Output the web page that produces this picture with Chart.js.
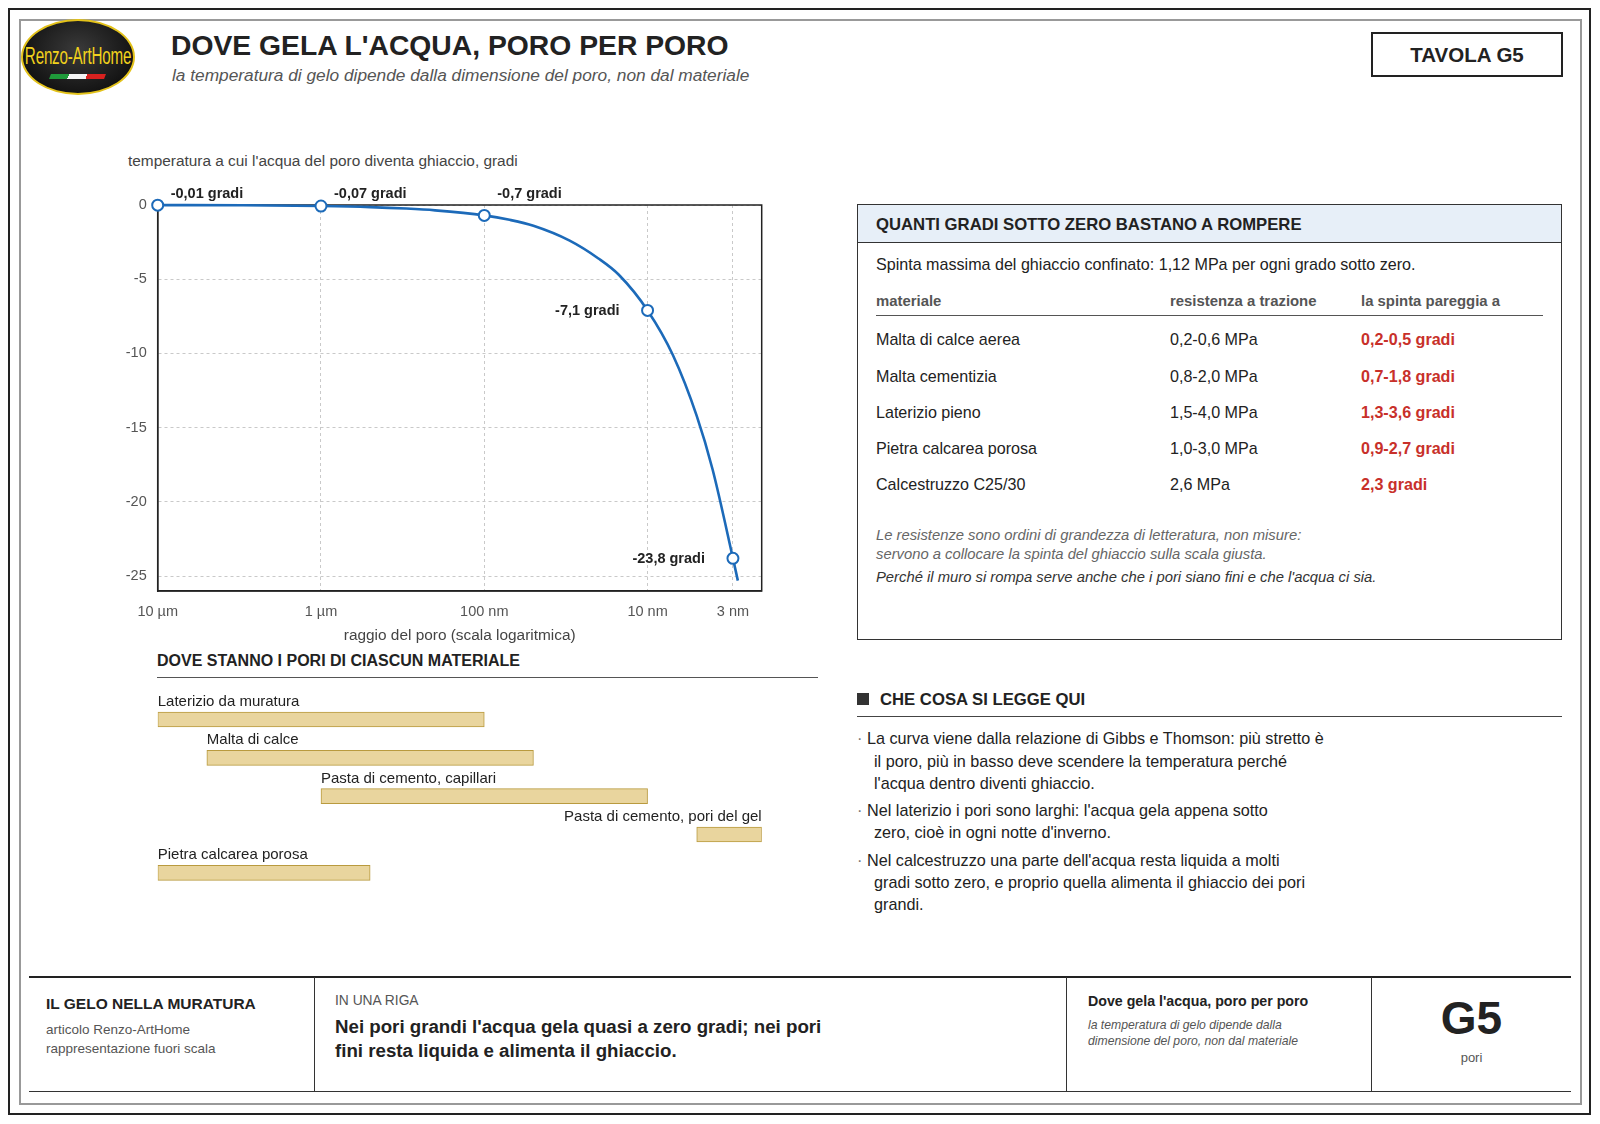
<!DOCTYPE html>
<html><head><meta charset="utf-8">
<script src="https://cdn.jsdelivr.net/npm/chart.js@4.4.0/dist/chart.umd.min.js"></script>
<style>
html,body{margin:0;padding:0;background:#fff;}
body{width:1600px;height:1124px;position:relative;overflow:hidden;font-family:"Liberation Sans",Arial,Helvetica,sans-serif;color:#222;}
.t{position:absolute;white-space:nowrap;line-height:1;transform:translateY(-50%);}
.box{position:absolute;box-sizing:border-box;}
.hl{position:absolute;height:0;}
.vl{position:absolute;width:0;}
canvas{position:absolute;}
</style></head><body>
<!-- frame -->
<div class="box" style="left:8px;top:8px;width:1583px;height:1107px;border:2.5px solid #222"></div>
<div class="box" style="left:19px;top:19px;width:1563px;height:1086px;border:2px solid #999"></div>

<!-- logo -->
<div class="box" style="left:21px;top:19px;width:114px;height:76px;border-radius:50%;border:2px solid #e3c21a;background:radial-gradient(ellipse at 50% 40%,#3a3a3a 0%,#1a1a1a 60%,#050505 100%);overflow:hidden">
  <div style="position:absolute;left:55px;top:24px;color:#f2d21c;font-size:23px;line-height:1;transform:translateX(-50%) scaleX(0.66);white-space:nowrap;letter-spacing:-0.3px">Renzo-ArtHome</div>
  <div style="position:absolute;left:27px;top:53px;width:55px;height:5px;background:linear-gradient(90deg,#1f9a3a 0%,#1f9a3a 33%,#f4f4f4 33%,#f4f4f4 66%,#d8211f 66%,#d8211f 100%);transform:skewX(-20deg)"></div>
</div>

<!-- title -->
<div class="t" style="left:171px;top:45px;font-size:28.3px;font-weight:bold;color:#222">DOVE GELA L'ACQUA, PORO PER PORO</div>
<div class="t" style="left:172px;top:76px;font-size:17.3px;font-style:italic;color:#555">la temperatura di gelo dipende dalla dimensione del poro, non dal materiale</div>
<div class="box" style="left:1371px;top:32px;width:192px;height:45px;border:2px solid #222"></div>
<div class="t" style="left:1371px;width:192px;text-align:center;top:54.5px;font-size:20.5px;font-weight:bold;color:#222">TAVOLA G5</div>

<!-- chart titles -->
<div class="t" style="left:128px;top:161px;font-size:15.4px;color:#444">temperatura a cui l'acqua del poro diventa ghiaccio, gradi</div>
<canvas id="c1" width="680" height="471" style="left:100px;top:180px"></canvas>

<div class="t" style="left:157px;top:661px;font-size:16px;font-weight:bold;color:#222">DOVE STANNO I PORI DI CIASCUN MATERIALE</div>
<div class="hl" style="left:157px;top:677px;width:661px;border-top:1.5px solid #555"></div>
<canvas id="c2" width="680" height="212" style="left:100px;top:680px"></canvas>

<!-- right panel -->
<div class="box" style="left:857px;top:204px;width:705px;height:436px;border:1.5px solid #333"></div>
<div class="box" style="left:858px;top:205px;width:703px;height:38px;background:#e7eff8;border-bottom:1.5px solid #333"></div>
<div class="t" style="left:876px;top:225px;font-size:16.7px;font-weight:bold;color:#222">QUANTI GRADI SOTTO ZERO BASTANO A ROMPERE</div>
<div class="t" style="left:876px;top:264px;font-size:16.1px;color:#222">Spinta massima del ghiaccio confinato: 1,12 MPa per ogni grado sotto zero.</div>
<div class="t" style="left:876px;top:300.5px;font-size:14.9px;font-weight:bold;color:#555">materiale</div>
<div class="t" style="left:1170px;top:300.5px;font-size:14.9px;font-weight:bold;color:#555">resistenza a trazione</div>
<div class="t" style="left:1361px;top:300.5px;font-size:14.9px;font-weight:bold;color:#555">la spinta pareggia a</div>
<div class="hl" style="left:876px;top:315px;width:667px;border-top:1.2px solid #555"></div>
<div id="tbl"></div>
<div class="t" style="left:876px;top:535px;font-size:14.8px;font-style:italic;color:#666">Le resistenze sono ordini di grandezza di letteratura, non misure:</div>
<div class="t" style="left:876px;top:554px;font-size:14.8px;font-style:italic;color:#666">servono a collocare la spinta del ghiaccio sulla scala giusta.</div>
<div class="t" style="left:876px;top:577px;font-size:14.8px;font-style:italic;color:#333">Perché il muro si rompa serve anche che i pori siano fini e che l'acqua ci sia.</div>

<!-- che cosa si legge qui -->
<div class="box" style="left:857px;top:693px;width:12px;height:12px;background:#333"></div>
<div class="t" style="left:880px;top:699.5px;font-size:16.7px;font-weight:bold;color:#222">CHE COSA SI LEGGE QUI</div>
<div class="hl" style="left:857px;top:716px;width:705px;border-top:1.2px solid #444"></div>
<div class="t" style="left:857px;top:738px;font-size:16.2px;color:#777">·</div>
<div class="t" style="left:867px;top:738px;font-size:16.2px">La curva viene dalla relazione di Gibbs e Thomson: più stretto è</div>
<div class="t" style="left:874px;top:760.5px;font-size:16.2px">il poro, più in basso deve scendere la temperatura perché</div>
<div class="t" style="left:874px;top:783px;font-size:16.2px">l'acqua dentro diventi ghiaccio.</div>
<div class="t" style="left:857px;top:810px;font-size:16.2px;color:#777">·</div>
<div class="t" style="left:867px;top:810px;font-size:16.2px">Nel laterizio i pori sono larghi: l'acqua gela appena sotto</div>
<div class="t" style="left:874px;top:832px;font-size:16.2px">zero, cioè in ogni notte d'inverno.</div>
<div class="t" style="left:857px;top:859.5px;font-size:16.2px;color:#777">·</div>
<div class="t" style="left:867px;top:859.5px;font-size:16.2px">Nel calcestruzzo una parte dell'acqua resta liquida a molti</div>
<div class="t" style="left:874px;top:882px;font-size:16.2px">gradi sotto zero, e proprio quella alimenta il ghiaccio dei pori</div>
<div class="t" style="left:874px;top:903.5px;font-size:16.2px">grandi.</div>

<!-- footer -->
<div class="hl" style="left:29px;top:976px;width:1542px;border-top:2px solid #222"></div>
<div class="hl" style="left:29px;top:1091px;width:1542px;border-top:1px solid #333"></div>
<div class="vl" style="left:314px;top:977px;height:115px;border-left:1px solid #333"></div>
<div class="vl" style="left:1066px;top:977px;height:115px;border-left:1px solid #333"></div>
<div class="vl" style="left:1371px;top:977px;height:115px;border-left:1px solid #333"></div>
<div class="t" style="left:46px;top:1004px;font-size:15.5px;font-weight:bold;color:#222">IL GELO NELLA MURATURA</div>
<div class="t" style="left:46px;top:1030px;font-size:13.5px;color:#555">articolo Renzo-ArtHome</div>
<div class="t" style="left:46px;top:1049px;font-size:13.5px;color:#555">rappresentazione fuori scala</div>
<div class="t" style="left:335px;top:1001px;font-size:13.8px;color:#555">IN UNA RIGA</div>
<div class="t" style="left:335px;top:1026.5px;font-size:18.7px;font-weight:bold;color:#222">Nei pori grandi l'acqua gela quasi a zero gradi; nei pori</div>
<div class="t" style="left:335px;top:1051px;font-size:18.7px;font-weight:bold;color:#222">fini resta liquida e alimenta il ghiaccio.</div>
<div class="t" style="left:1088px;top:1001px;font-size:14.2px;font-weight:bold;color:#222">Dove gela l'acqua, poro per poro</div>
<div class="t" style="left:1088px;top:1025px;font-size:12.2px;font-style:italic;color:#555">la temperatura di gelo dipende dalla</div>
<div class="t" style="left:1088px;top:1041px;font-size:12.2px;font-style:italic;color:#555">dimensione del poro, non dal materiale</div>
<div class="t" style="left:1372px;width:199px;text-align:center;top:1018px;font-size:46px;font-weight:bold;color:#222">G5</div>
<div class="t" style="left:1372px;width:199px;text-align:center;top:1057px;font-size:13px;color:#555">pori</div>

<script>
// ---- data ----
const radiusTicks = [10000, 1000, 100, 10, 3];            // nm
const radiusTickLabels = ['10 µm', '1 µm', '100 nm', '10 nm', '3 nm'];
const tempTicks = [0, -5, -10, -15, -20, -25];
const markerRadius = [10000, 1000, 100, 10, 3];            // nm
const markerTemp = [-0.01, -0.07, -0.7, -7.1, -23.8];      // gradi
const curveRadius = [10000, 3000, 1000, 500, 300, 200, 100, 70, 50, 30, 20, 15, 10, 7, 5, 4, 3, 2.8];
const curveTemp = [-0.01, -0.02, -0.07, -0.14, -0.24, -0.36, -0.7, -1.0, -1.4, -2.4, -3.6, -4.7, -7.1, -10.1, -14.2, -17.8, -23.8, -25.3];
const materials = ['Laterizio da muratura', 'Malta di calce', 'Pasta di cemento, capillari', 'Pasta di cemento, pori del gel', 'Pietra calcarea porosa'];
const poreFrom = [10000, 5000, 1000, 5, 10000];            // nm
const poreTo = [100, 50, 10, 2, 500];                      // nm
const tblMaterial = ['Malta di calce aerea', 'Malta cementizia', 'Laterizio pieno', 'Pietra calcarea porosa', 'Calcestruzzo C25/30'];
const tblStrength = ['0,2-0,6 MPa', '0,8-2,0 MPa', '1,5-4,0 MPa', '1,0-3,0 MPa', '2,6 MPa'];
const tblDegrees = ['0,2-0,5 gradi', '0,7-1,8 gradi', '1,3-3,6 gradi', '0,9-2,7 gradi', '2,3 gradi'];

// ---- table ----
(function(){
  const rowsY = [339, 375.5, 411.5, 448, 484];
  let h = '';
  tblMaterial.forEach((m, i) => {
    h += `<div class="t" style="left:876px;top:${rowsY[i]}px;font-size:16.1px;color:#222">${m}</div>`;
    h += `<div class="t" style="left:1170px;top:${rowsY[i]}px;font-size:16.1px;color:#222">${tblStrength[i]}</div>`;
    h += `<div class="t" style="left:1361px;top:${rowsY[i]}px;font-size:16.1px;font-weight:bold;color:#c8302a">${tblDegrees[i]}</div>`;
  });
  document.getElementById('tbl').innerHTML = h;
})();

const FONT = '"Liberation Sans", Arial, Helvetica, sans-serif';
Chart.defaults.font.family = FONT;
const blue = '#1c6ab9';

const boxPlugin = {
  id: 'box',
  beforeDatasetsDraw(chart) {
    const a = chart.chartArea, ctx = chart.ctx;
    ctx.save();
    ctx.strokeStyle = '#222';
    ctx.lineWidth = 1.5;
    ctx.strokeRect(a.left, a.top, a.right - a.left, a.bottom - a.top);
    ctx.restore();
  }
};
const pointLabelPlugin = {
  id: 'plabels',
  afterDatasetsDraw(chart) {
    const meta = chart.getDatasetMeta(0);
    const ctx = chart.ctx, a = chart.chartArea;
    ctx.save();
    ctx.font = 'bold 14.5px ' + FONT;
    ctx.fillStyle = '#222';
    ctx.textBaseline = 'middle';
    meta.data.forEach((el, i) => {
      const v = markerTemp[i];
      const txt = String(v).replace('.', ',') + ' gradi';
      if (v > -2) {
        ctx.textAlign = 'left';
        ctx.fillText(txt, el.x + 13, a.top - 11);
      } else {
        ctx.textAlign = 'right';
        ctx.fillText(txt, el.x - 28, el.y + 1);
      }
    });
    ctx.restore();
  }
};

new Chart(document.getElementById('c1'), {
  type: 'line',
  data: {
    datasets: [
      {
        data: markerRadius.map((r, i) => ({x: r, y: markerTemp[i]})),
        showLine: false, pointRadius: 5.5, pointBorderWidth: 2,
        pointBorderColor: blue, pointBackgroundColor: '#fff', clip: false, order: 1
      },
      {
        data: curveRadius.map((r, i) => ({x: r, y: curveTemp[i]})),
        borderColor: blue, borderWidth: 2.6, pointRadius: 0, fill: false,
        cubicInterpolationMode: 'monotone', clip: false, order: 2
      }
    ]
  },
  options: {
    responsive: false, animation: false, events: [],
    layout: {padding: {top: 25, right: 18.3, left: 0, bottom: 0}},
    plugins: {legend: {display: false}, tooltip: {enabled: false}},
    scales: {
      x: {
        type: 'logarithmic', min: 2, max: 10000, reverse: true,
        afterBuildTicks: s => { s.ticks = radiusTicks.map(v => ({value: v})); },
        afterFit: s => { s.height = 60; },
        ticks: {autoSkip: false, maxRotation: 0, padding: 12, color: '#555', font: {size: 14.5},
          callback: v => { const i = radiusTicks.indexOf(v); return i >= 0 ? radiusTickLabels[i] : ''; }},
        grid: {color: '#c9c9c9', lineWidth: 1, drawTicks: false},
        border: {display: true, color: '#222', width: 1.5, dash: [3, 3]},
        title: {display: true, text: 'raggio del poro (scala logaritmica)', color: '#444', font: {size: 15.4}, padding: {top: 0, bottom: 6.5}}
      },
      y: {
        min: -26, max: 0,
        afterBuildTicks: s => { s.ticks = tempTicks.map(v => ({value: v})); },
        afterFit: s => { s.width = 57.7; },
        ticks: {padding: 11, color: '#555', font: {size: 14.5}, callback: v => String(v)},
        grid: {color: '#c9c9c9', lineWidth: 1, drawTicks: false},
        border: {display: true, color: '#222', width: 1.5, dash: [3, 3]}
      }
    }
  },
  plugins: [boxPlugin, pointLabelPlugin]
});

const barLabelPlugin = {
  id: 'blabels',
  afterDatasetsDraw(chart) {
    const meta = chart.getDatasetMeta(0);
    const ctx = chart.ctx, a = chart.chartArea;
    ctx.save();
    ctx.font = '15px ' + FONT;
    ctx.fillStyle = '#222';
    ctx.textBaseline = 'middle';
    meta.data.forEach((el, i) => {
      const left = Math.min(el.x, el.base), right = Math.max(el.x, el.base);
      const w = ctx.measureText(materials[i]).width;
      if (left + w > a.right) { ctx.textAlign = 'right'; ctx.fillText(materials[i], right, el.y - 17.5); }
      else { ctx.textAlign = 'left'; ctx.fillText(materials[i], left, el.y - 17.5); }
    });
    ctx.restore();
  }
};

new Chart(document.getElementById('c2'), {
  type: 'bar',
  data: {
    labels: materials,
    datasets: [{
      data: poreFrom.map((f, i) => [f, poreTo[i]]),
      backgroundColor: '#e9d59e', borderColor: '#b99a3e', borderWidth: 1,
      borderSkipped: false, barThickness: 15
    }]
  },
  options: {
    indexAxis: 'y', responsive: false, animation: false, events: [],
    layout: {padding: {left: 57.7, right: 18.3, top: 20.3, bottom: 0}},
    plugins: {legend: {display: false}, tooltip: {enabled: false}},
    scales: {
      x: {type: 'logarithmic', min: 2, max: 10000, reverse: true, display: false},
      y: {display: false}
    }
  },
  plugins: [barLabelPlugin]
});
</script>
</body></html>
